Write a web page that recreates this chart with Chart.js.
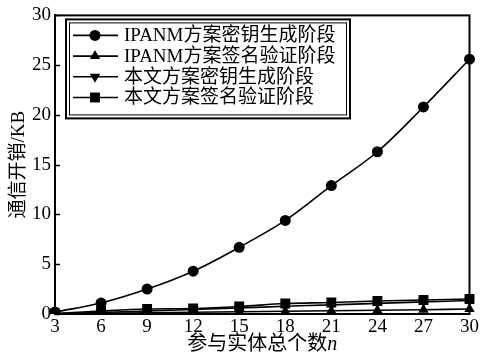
<!DOCTYPE html>
<html>
<head>
<meta charset="utf-8">
<script src="https://cdn.jsdelivr.net/npm/chart.js@4/dist/chart.umd.min.js"></script>
<style>
  html, body { margin: 0; padding: 0; background: #fff; }
  #wrap { width: 481px; height: 358px; }
</style>
</head>
<body>
<div id="wrap"><canvas id="chart" width="481" height="358"></canvas></div>
<script>
var entityCounts = [3, 6, 9, 12, 15, 18, 21, 24, 27, 30];
var ipanmKeyGen = [0.2, 1.1, 2.5, 4.3, 6.7, 9.4, 12.9, 16.3, 20.8, 25.6];
var ipanmSignVerify = [0.03, 0.08, 0.13, 0.18, 0.23, 0.28, 0.33, 0.38, 0.43, 0.5];
var oursKeyGen = [0.03, 0.15, 0.3, 0.45, 0.6, 0.78, 0.92, 1.07, 1.22, 1.35];
var oursSignVerify = [0.05, 0.3, 0.5, 0.55, 0.75, 1.05, 1.15, 1.3, 1.4, 1.5];
var seriesNames = ['IPANM方案密钥生成阶段', 'IPANM方案签名验证阶段', '本文方案密钥生成阶段', '本文方案签名验证阶段'];
var yTicks = [0, 5, 10, 15, 20, 25, 30];
var yTitle = '通信开销/KB';
var xTitle = '参与实体总个数';
var xVar = 'n';

var serif = "'Liberation Serif', 'Noto Sans CJK SC', serif";

function makeSet(label, data, style, radius, rotation) {
    return {
        label: label,
        data: data,
        borderColor: '#000',
        backgroundColor: '#000',
        borderWidth: 1.6,
        pointStyle: style,
        pointRadius: radius,
        pointRotation: rotation,
        pointBorderWidth: 0,
        tension: 0.35,
        fill: false
    };
}

// frame, inward ticks, legend box and x title
var extras = {
    id: 'extras',
    afterDraw: function (chart) {
        var ctx = chart.ctx;
        var a = chart.chartArea;
        var ys = chart.scales.y;
        ctx.save();
        ctx.strokeStyle = '#000';
        ctx.lineWidth = 2;
        ctx.strokeRect(a.left, a.top, a.right - a.left, a.bottom - a.top);
        ctx.lineWidth = 1.5;
        yTicks.forEach(function (t) {
            var py = Math.round(ys.getPixelForValue(t)) + 0.5;
            ctx.beginPath();
            ctx.moveTo(a.left, py);
            ctx.lineTo(a.left + 5, py);
            ctx.stroke();
        });

        // legend
        var bx = a.left + 11, by = a.top + 4, bw = 284, bh = 99;
        ctx.fillStyle = '#fff';
        ctx.fillRect(bx, by, bw, bh);
        ctx.lineWidth = 2;
        ctx.strokeRect(bx, by, bw, bh);
        ctx.lineWidth = 1;
        ctx.strokeRect(bx + 3.5, by + 3.5, bw - 7, bh - 7);
        ctx.font = '19px ' + serif;
        ctx.textBaseline = 'middle';
        ctx.fillStyle = '#000';
        chart.data.datasets.forEach(function (ds, i) {
            var ry = by + 16 + i * 20.7;
            ctx.lineWidth = 1.6;
            ctx.beginPath();
            ctx.moveTo(bx + 7, ry);
            ctx.lineTo(bx + 52, ry);
            ctx.stroke();
            Chart.helpers.drawPoint(ctx, {
                pointStyle: ds.pointStyle,
                radius: ds.pointRadius,
                rotation: ds.pointRotation,
                borderWidth: 0
            }, bx + 29, ry);
            ctx.fillText(ds.label, bx + 58, ry + 1);
        });

        // x title with italic n
        ctx.font = '20px ' + serif;
        var w1 = ctx.measureText(xTitle).width;
        ctx.font = 'italic 20px ' + serif;
        var w2 = ctx.measureText(xVar).width;
        var cx = (a.left + a.right) / 2;
        var sx = cx - (w1 + w2) / 2;
        ctx.textBaseline = 'alphabetic';
        ctx.textAlign = 'left';
        ctx.font = '20px ' + serif;
        ctx.fillText(xTitle, sx, 350);
        ctx.font = 'italic 20px ' + serif;
        ctx.fillText(xVar, sx + w1, 350);
        ctx.restore();
    }
};

new Chart(document.getElementById('chart'), {
    type: 'line',
    data: {
        labels: entityCounts,
        datasets: [
            makeSet(seriesNames[0], ipanmKeyGen, 'circle', 5.5, 0),
            makeSet(seriesNames[1], ipanmSignVerify, 'triangle', 6, 0),
            makeSet(seriesNames[2], oursKeyGen, 'triangle', 6, 180),
            makeSet(seriesNames[3], oursSignVerify, 'rect', 7, 0)
        ]
    },
    options: {
        responsive: false,
        animation: false,
        layout: { padding: { top: 14, right: 10, left: 8, bottom: 0 } },
        plugins: {
            legend: { display: false },
            tooltip: { enabled: false }
        },
        scales: {
            x: {
                type: 'category',
                offset: false,
                grid: { display: false, drawTicks: false },
                border: { display: true, color: '#000', width: 2 },
                ticks: {
                    color: '#000',
                    font: { family: serif, size: 19 },
                    padding: 2,
                    maxRotation: 0,
                    autoSkip: false
                },
                afterFit: function (s) { s.height = 44; }
            },
            y: {
                min: 0,
                max: 30,
                grid: { display: false, drawTicks: false },
                border: { display: true, color: '#000', width: 2 },
                ticks: {
                    stepSize: 5,
                    color: '#000',
                    font: { family: serif, size: 19 },
                    padding: 4
                },
                title: {
                    display: true,
                    text: yTitle,
                    color: '#000',
                    font: { family: serif, size: 19 },
                    padding: 0
                },
                afterFit: function (s) { s.width = 47; }
            }
        }
    },
    plugins: [extras]
});
</script>
</body>
</html>
